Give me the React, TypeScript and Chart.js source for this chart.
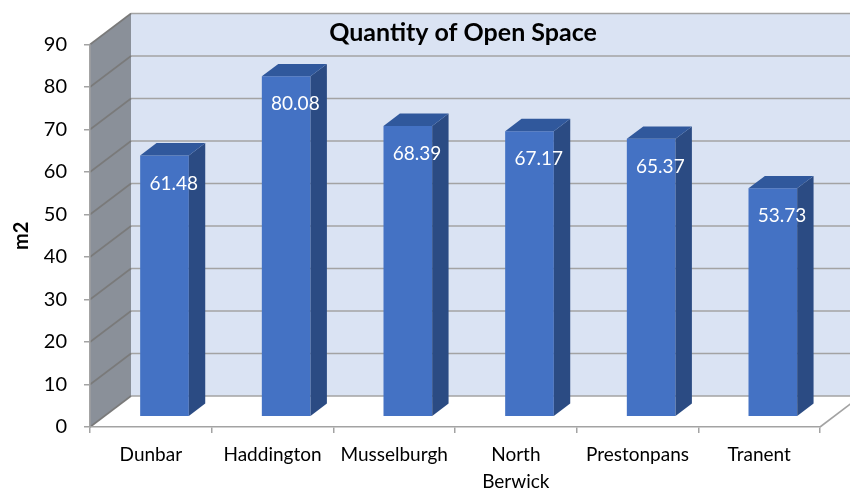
import React, { useEffect, useRef } from "react";
import { Chart, registerables } from "chart.js";

Chart.register(...registerables);

const categories = ["Dunbar", "Haddington", "Musselburgh", "North Berwick", "Prestonpans", "Tranent"];
const values = [61.48, 80.08, 68.39, 67.17, 65.37, 53.73];
const yMin = 0;
const yMax = 90;
const yStep = 10;
const chartTitle = "Quantity of Open Space";
const yTitle = "m2";

const FONT = "Lato, 'Open Sans', sans-serif";
// depth of the 3D box (back wall offset) and bar placement in depth
const DX = 41;
const DY = -31;
const BAR_OFF = 1 / 3;
const BAR_DEPTH = 0.4;

const threeD = {
  id: "threeD",
  beforeDraw(chart: any) {
    const { ctx, chartArea, scales } = chart;
    const y = scales.y;
    const L = chartArea.left;
    const R = chartArea.right;
    const yf = (v: number) => y.getPixelForValue(v);
    const yb = (v: number) => y.getPixelForValue(v) + DY;
    ctx.save();
    // back wall
    ctx.fillStyle = "#DAE3F3";
    ctx.fillRect(L + DX, yb(yMax), R - L, yb(yMin) - yb(yMax));
    // left wall
    ctx.fillStyle = "#8A9099";
    ctx.beginPath();
    ctx.moveTo(L, yf(yMin));
    ctx.lineTo(L, yf(yMax));
    ctx.lineTo(L + DX, yb(yMax));
    ctx.lineTo(L + DX, yb(yMin));
    ctx.closePath();
    ctx.fill();
    // floor
    ctx.fillStyle = "#FFFFFF";
    ctx.beginPath();
    ctx.moveTo(L, yf(yMin));
    ctx.lineTo(R, yf(yMin));
    ctx.lineTo(R + DX, yb(yMin));
    ctx.lineTo(L + DX, yb(yMin));
    ctx.closePath();
    ctx.fill();
    // gridlines
    ctx.lineWidth = 1.6;
    for (let v = yMin; v <= yMax; v += yStep) {
      ctx.strokeStyle = "#A3A3A3";
      ctx.beginPath();
      ctx.moveTo(L + DX, yb(v));
      ctx.lineTo(R + DX, yb(v));
      ctx.stroke();
      ctx.strokeStyle = "#7A7A7A";
      ctx.beginPath();
      ctx.moveTo(L, yf(v));
      ctx.lineTo(L + DX, yb(v));
      ctx.stroke();
    }
    ctx.strokeStyle = "#A3A3A3";
    ctx.beginPath();
    ctx.moveTo(R, yf(yMin));
    ctx.lineTo(R + DX, yb(yMin));
    ctx.stroke();
    // title
    ctx.fillStyle = "#000";
    ctx.font = `bold 25px ${FONT}`;
    ctx.textAlign = "center";
    ctx.textBaseline = "middle";
    ctx.fillText(chartTitle, 463, 33);
    ctx.restore();
  },
  beforeDatasetsDraw(chart: any) {
    chart.ctx.save();
    chart.ctx.translate(DX * BAR_OFF, DY * BAR_OFF);
  },
  afterDatasetsDraw(chart: any) {
    const { ctx } = chart;
    const meta = chart.getDatasetMeta(0);
    const bdx = DX * BAR_DEPTH;
    const bdy = DY * BAR_DEPTH;
    meta.data.forEach((el: any, i: number) => {
      const { x, y, base, width } = el.getProps(["x", "y", "base", "width"], true);
      const l = x - width / 2;
      const r = x + width / 2;
      ctx.fillStyle = "#2B4B83";
      ctx.beginPath();
      ctx.moveTo(r, y);
      ctx.lineTo(r + bdx, y + bdy);
      ctx.lineTo(r + bdx, base + bdy);
      ctx.lineTo(r, base);
      ctx.closePath();
      ctx.fill();
      ctx.fillStyle = "#30589C";
      ctx.beginPath();
      ctx.moveTo(l, y);
      ctx.lineTo(r, y);
      ctx.lineTo(r + bdx, y + bdy);
      ctx.lineTo(l + bdx, y + bdy);
      ctx.closePath();
      ctx.fill();
      ctx.fillStyle = "#FFFFFF";
      ctx.font = `19px ${FONT}`;
      ctx.textAlign = "center";
      ctx.textBaseline = "middle";
      ctx.fillText(values[i].toFixed(2), x + bdx / 2 + 1, y + 28);
    });
    ctx.restore();
  },
};

export default function App() {
  const ref = useRef<HTMLCanvasElement | null>(null);
  useEffect(() => {
    if (!ref.current) return;
    const chart = new Chart(ref.current, {
      type: "bar",
      data: {
        labels: categories.map((c) => (c === "North Berwick" ? c.split(" ") : c)),
        datasets: [
          {
            data: values,
            backgroundColor: "#4472C4",
            borderWidth: 0,
            barPercentage: 0.4,
            categoryPercentage: 1,
            clip: false as any,
          },
        ],
      },
      options: {
        responsive: false,
        animation: false,
        devicePixelRatio: 1,
        layout: { padding: { top: 44.5, right: 30, left: 0, bottom: 0 } },
        plugins: { legend: { display: false }, tooltip: { enabled: false }, title: { display: false } },
        scales: {
          x: {
            grid: { drawOnChartArea: false, tickLength: 6, color: "#A3A3A3", lineWidth: 1.5, offset: true },
            border: { color: "#A3A3A3", width: 1.6 },
            ticks: { color: "#000", font: { family: FONT, size: 19, lineHeight: 1.4 }, padding: 9, maxRotation: 0 },
            afterFit: (s: any) => {
              s.height = 61;
            },
          },
          y: {
            min: yMin,
            max: yMax,
            ticks: { stepSize: yStep, color: "#000", font: { family: FONT, size: 20 }, padding: 17 },
            grid: { drawOnChartArea: false, tickLength: 6, color: "#A3A3A3", lineWidth: 1.5 },
            border: { color: "#A3A3A3", width: 1.6 },
            title: {
              display: true,
              text: yTitle,
              color: "#000",
              font: { family: FONT, size: 20, weight: "bold" },
              padding: { top: 10, bottom: 0 },
            },
            afterFit: (s: any) => {
              s.width = 90;
            },
          },
        },
      },
      plugins: [threeD],
    });
    return () => chart.destroy();
  }, []);
  return (
    <div style={{ position: "absolute", left: 0, top: 0, width: 850, height: 488, background: "#fff" }}>
      <canvas ref={ref} width={850} height={488} style={{ display: "block" }} />
    </div>
  );
}
